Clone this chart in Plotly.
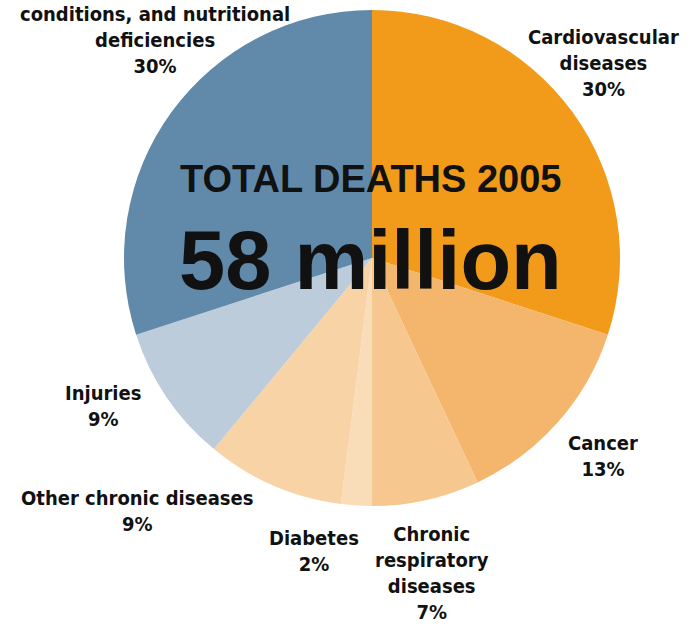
import plotly.graph_objects as go

labels = ["Cardiovascular diseases", "Cancer", "Chronic respiratory diseases", "Diabetes",
          "Other chronic diseases", "Injuries",
          "Communicable diseases, maternal and perinatal conditions, and nutritional deficiencies"]
values = [30, 13, 7, 2, 9, 9, 30]
label_lines = [
    ["Cardiovascular", "diseases"],
    ["Cancer"],
    ["Chronic", "respiratory", "diseases"],
    ["Diabetes"],
    ["Other chronic diseases"],
    ["Injuries"],
    ["conditions, and nutritional", "deficiencies"],
]
colors = ["#F29B1B", "#F4B56D", "#F6C88F", "#F9DDB9", "#F7D3A6", "#BCCCDB", "#6089AA"]
center_title = "TOTAL DEATHS 2005"
center_value = "58 million"

W, H = 692, 626
FONT = "DejaVu Sans Condensed, Liberation Sans, sans-serif"
FONT_C = "Liberation Sans, Arial, sans-serif"

fig = go.Figure(go.Pie(
    labels=labels, values=values, sort=False, direction="clockwise", rotation=0,
    marker=dict(colors=colors, line=dict(width=0)),
    textinfo="none", hoverinfo="label+percent", showlegend=False,
    domain=dict(x=[124 / W, 620 / W], y=[(H - 506) / H, (H - 10) / H]),
))

# label anchor positions (pixel centers)
label_pos = [(603, 63), (603, 456), (432, 573), (314, 551), (137, 511), (103, 406), (155, 40)]

anns = []
for lines, v, (px, py) in zip(label_lines, values, label_pos):
    txt = "<br>".join("<b>" + s + "</b>" for s in lines + [f"{v}%"])
    anns.append(dict(x=px / W, y=1 - py / H, xref="paper", yref="paper", text=txt,
                     showarrow=False, xanchor="center", yanchor="middle", align="center",
                     font=dict(family=FONT, size=20, color="#111111")))
anns.append(dict(x=371 / W, y=1 - 179 / H, xref="paper", yref="paper", text="<b>" + center_title + "</b>",
                 showarrow=False, xanchor="center", yanchor="middle",
                 font=dict(family=FONT_C, size=38, color="#111111")))
anns.append(dict(x=370 / W, y=1 - 260 / H, xref="paper", yref="paper", text="<b>" + center_value + "</b>",
                 showarrow=False, xanchor="center", yanchor="middle",
                 font=dict(family=FONT_C, size=83, color="#111111")))

fig.update_layout(width=W, height=H, margin=dict(l=0, r=0, t=0, b=0),
                  paper_bgcolor="white", plot_bgcolor="white", annotations=anns)
fig.write_html("out.html", config={"displayModeBar": False},
               post_script="document.body.style.margin='0';document.body.style.padding='0';")
